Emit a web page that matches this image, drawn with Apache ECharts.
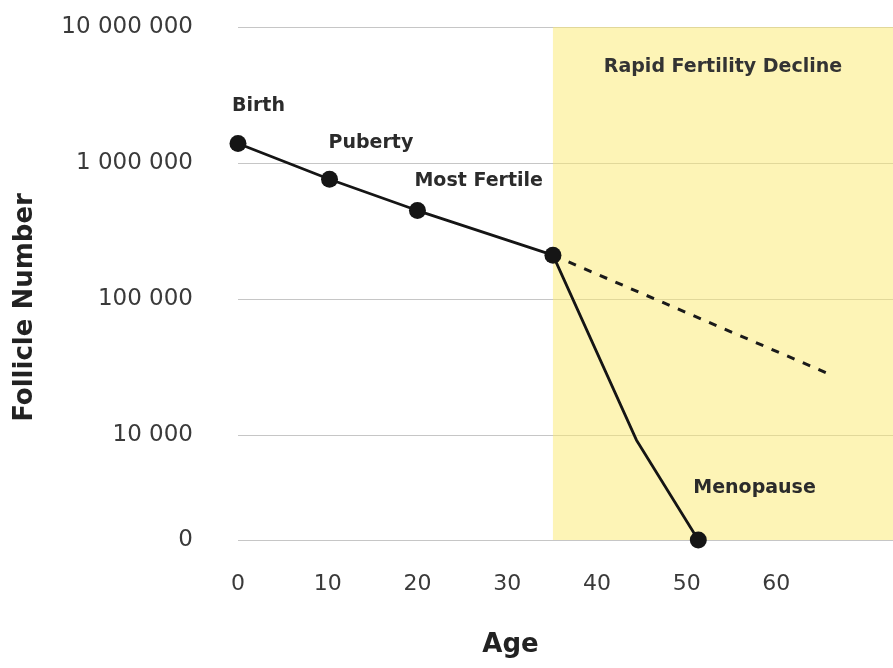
<!DOCTYPE html>
<html>
<head>
<meta charset="utf-8">
<script src="https://cdn.jsdelivr.net/npm/echarts@6/dist/echarts.min.js"></script>
<style>
html,body{margin:0;padding:0;background:#fff;}
#chart{width:893px;height:668px;}
</style>
</head>
<body>
<div id="chart"></div>
<script>
// ---- data ----
const ages = [0, 10.2, 20, 35.1, 44.4, 51.3];
const follicles = [1390000, 760000, 447000, 210000, 9200, 1690];
const pointLabels = ['Birth', 'Puberty', 'Most Fertile', '', '', 'Menopause'];
const pointMarked = [true, true, true, true, false, true];
const projectionAges = [35.1, 65.7];
const projectionFollicles = [210000, 28400];
const xTickValues = [0, 10, 20, 30, 40, 50, 60];
const yTickValues = [1690, 10000, 100000, 1000000, 10000000];
const yTickLabels = ['0', '10 000', '100 000', '1 000 000', '10 000 000'];
const declineBand = [35.1, 73];
const declineLabel = 'Rapid Fertility Decline';
const xAxisTitle = 'Age';
const yAxisTitle = 'Follicle Number';

// ---- styling (layout only) ----
const labelOffsets = [[-6, -29], [-1, -28], [-3, -21], [0, 0], [0, 0], [-5, -43]];
const FONT = 'DejaVu Sans';

const mainData = ages.map((a, i) => {
  const item = { value: [a, follicles[i]] };
  if (!pointMarked[i]) item.symbol = 'none';
  if (pointLabels[i]) {
    item.label = {
      show: true,
      formatter: pointLabels[i],
      position: 'top',
      distance: 0,
      align: 'left',
      verticalAlign: 'middle',
      offset: labelOffsets[i]
    };
  } else {
    item.label = { show: false };
  }
  return item;
});

const projData = projectionAges.map((a, i) => [a, projectionFollicles[i]]);

const chart = echarts.init(document.getElementById('chart'), null, { renderer: 'canvas' });
chart.setOption({
  animation: false,
  backgroundColor: '#ffffff',
  textStyle: { fontFamily: FONT },
  grid: { left: 238, right: 0, top: 27, bottom: 128, containLabel: false, outerBoundsMode: 'none' },
  xAxis: {
    type: 'value',
    min: 0,
    max: declineBand[1],
    interval: 10,
    name: xAxisTitle,
    nameLocation: 'middle',
    nameGap: 92,
    nameTextStyle: { fontFamily: FONT, fontSize: 26, fontWeight: 'bold', color: '#222', padding: [0, 110, 0, 0] },
    axisLine: { show: false },
    axisTick: { show: false },
    splitLine: { show: false },
    axisLabel: {
      margin: 33,
      fontFamily: FONT,
      fontSize: 22,
      color: '#3a3a3a',
      showMaxLabel: false,
      formatter: v => (xTickValues.indexOf(v) >= 0 ? String(v) : '')
    }
  },
  yAxis: {
    type: 'log',
    logBase: 10,
    min: yTickValues[0],
    max: yTickValues[yTickValues.length - 1],
    name: yAxisTitle,
    nameLocation: 'middle',
    nameGap: 200,
    nameRotate: 90,
    nameTextStyle: { fontFamily: FONT, fontSize: 26, fontWeight: 'bold', color: '#222', padding: [0, 48, 0, 0] },
    axisLine: { show: false },
    axisTick: { show: false },
    splitLine: { show: true, lineStyle: { color: '#c6c6c6', width: 1.2 } },
    axisLabel: {
      margin: 45,
      fontFamily: FONT,
      fontSize: 23,
      color: '#3a3a3a',
      showMinLabel: true,
      showMaxLabel: true,
      formatter: v => {
        const i = yTickValues.findIndex(t => Math.abs(Math.log10(t) - Math.log10(v)) < 0.05);
        return i >= 0 ? yTickLabels[i] : '';
      }
    }
  },
  series: [
    {
      name: 'projection',
      type: 'line',
      z: 3,
      data: projData,
      symbol: 'none',
      lineStyle: { color: '#1a1a1a', width: 3, type: [8, 9] },
      markArea: {
        silent: true,
        itemStyle: { color: 'rgba(251,233,109,0.5)' },
        label: {
          show: true,
          position: 'insideTop',
          distance: 31,
          fontFamily: FONT,
          fontSize: 19,
          fontWeight: 'bold',
          color: '#333'
        },
        data: [[{ name: declineLabel, xAxis: declineBand[0] }, { xAxis: declineBand[1] }]]
      }
    },
    {
      name: 'follicles',
      type: 'line',
      z: 5,
      data: mainData,
      symbol: 'circle',
      symbolSize: 17,
      showAllSymbol: true,
      itemStyle: { color: '#151515' },
      lineStyle: { color: '#151515', width: 2.8 },
      label: {
        fontFamily: FONT,
        fontSize: 19,
        fontWeight: 'bold',
        color: '#2b2b2b'
      }
    }
  ]
});
</script>
</body>
</html>
